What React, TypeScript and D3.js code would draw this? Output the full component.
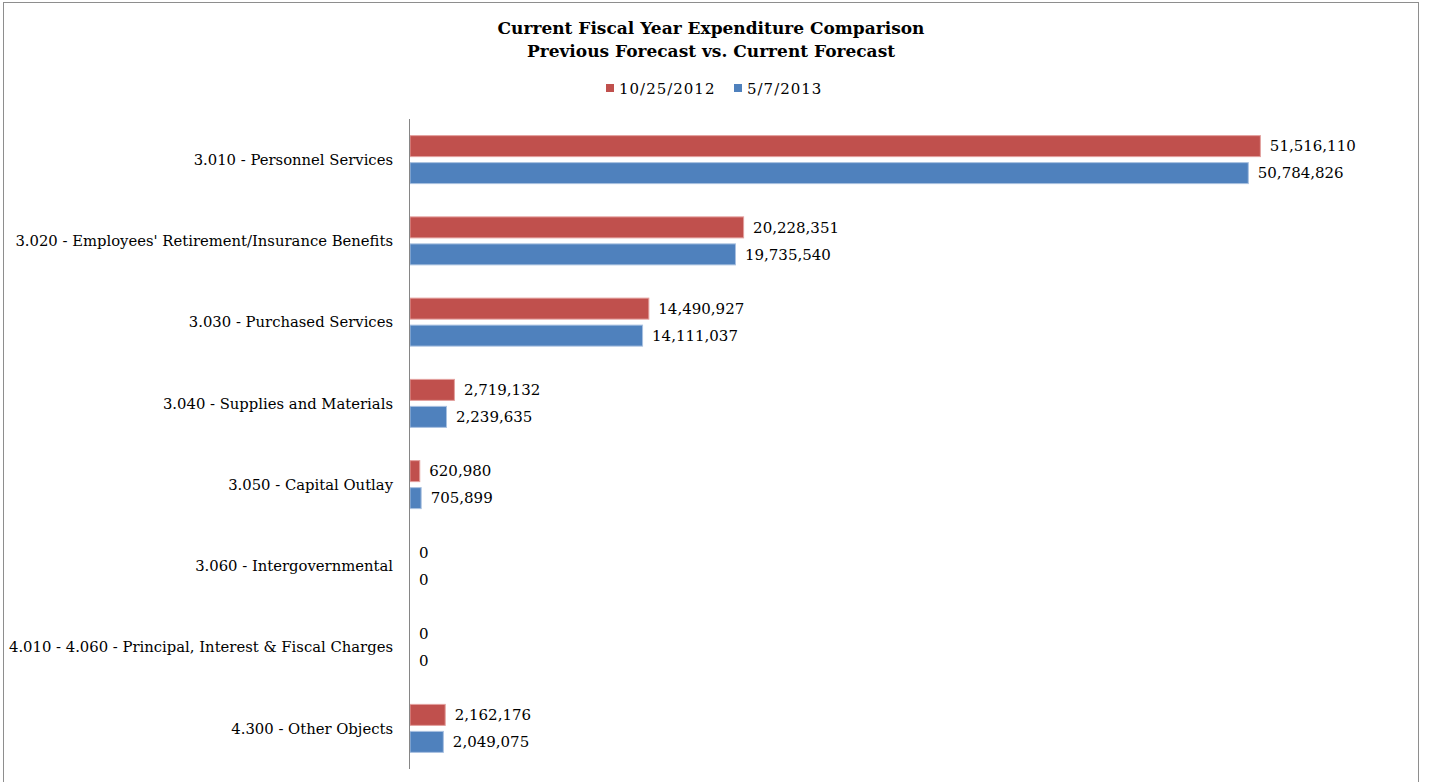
import React from "react";
import * as d3 from "d3";

const categories = [
  "3.010 - Personnel Services",
  "3.020 - Employees' Retirement/Insurance Benefits",
  "3.030 - Purchased Services",
  "3.040 - Supplies and Materials",
  "3.050 - Capital Outlay",
  "3.060 - Intergovernmental",
  "4.010 - 4.060 - Principal, Interest & Fiscal Charges",
  "4.300 - Other Objects",
];
const seriesNames = ["10/25/2012", "5/7/2013"];
const previousForecast = [51516110, 20228351, 14490927, 2719132, 620980, 0, 0, 2162176];
const currentForecast = [50784826, 19735540, 14111037, 2239635, 705899, 0, 0, 2049075];
const seriesColors = ["#C0504D", "#4F81BD"];
const seriesStroke = ["#E3A09E", "#A9C1E0"];
const titleLines = ["Current Fiscal Year Expenditure Comparison", "Previous Forecast vs. Current Forecast"];

const W = 1430;
const H = 782;
const FONT = "'DejaVu Serif', 'Liberation Serif', serif";

export default function App() {
  const plotLeft = 410;
  const plotRight = 1401;
  const plotTop = 119;
  const plotBottom = 769;

  const x = d3.scaleLinear().domain([0, 60000000]).range([plotLeft, plotRight]);
  const y = d3.scaleBand<string>().domain(categories).range([plotTop, plotBottom]).paddingInner(0.397).paddingOuter(0.1985);
  const inner = d3.scaleBand<string>().domain(seriesNames).range([0, y.bandwidth()]).paddingInner(0.185);
  const fmt = d3.format(",");
  const series = [previousForecast, currentForecast];

  return (
    <svg width={W} height={H} style={{ position: "absolute", left: 0, top: 0, background: "#fff" }} fontFamily={FONT}>
      <rect x={3.5} y={2.5} width={1415} height={790} fill="#fff" stroke="#8e8e8e" strokeWidth={1} />
      {titleLines.map((t, i) => (
        <text key={t} x={711} y={34 + i * 23} textAnchor="middle" fontWeight="bold" fontSize={17} fill="#000">
          {t}
        </text>
      ))}
      {/* legend */}
      <g>
        <rect x={606} y={84} width={8} height={8} fill={seriesColors[0]} />
        <text x={619} y={94} fontSize={15} letterSpacing={1} fill="#000">{seriesNames[0]}</text>
        <rect x={734} y={84} width={8} height={8} fill={seriesColors[1]} />
        <text x={747} y={94} fontSize={15} letterSpacing={1} fill="#000">{seriesNames[1]}</text>
      </g>
      {/* bars */}
      {categories.map((c, ci) => (
        <g key={c}>
          {series.map((vals, si) => {
            const v = vals[ci];
            const by = (y(c) as number) + (inner(seriesNames[si]) as number);
            const bh = inner.bandwidth();
            const bw = x(v) - x(0);
            return (
              <g key={si}>
                {v > 0 && (
                  <rect x={x(0)} y={by + 0.5} width={bw - 0.5} height={bh - 1} fill={seriesColors[si]} stroke={seriesStroke[si]} strokeWidth={1} />
                )}
                <text x={x(v) + 9} y={by + bh / 2} dy="0.35em" fontSize={15} fill="#000">
                  {fmt(v)}
                </text>
              </g>
            );
          })}
          <text x={393} y={(y(c) as number) + y.bandwidth() / 2} dy="0.35em" textAnchor="end" fontSize={14.8} fill="#000">
            {c}
          </text>
        </g>
      ))}
      <line x1={409.5} x2={409.5} y1={plotTop} y2={plotBottom} stroke="#868686" strokeWidth={1} />
    </svg>
  );
}
